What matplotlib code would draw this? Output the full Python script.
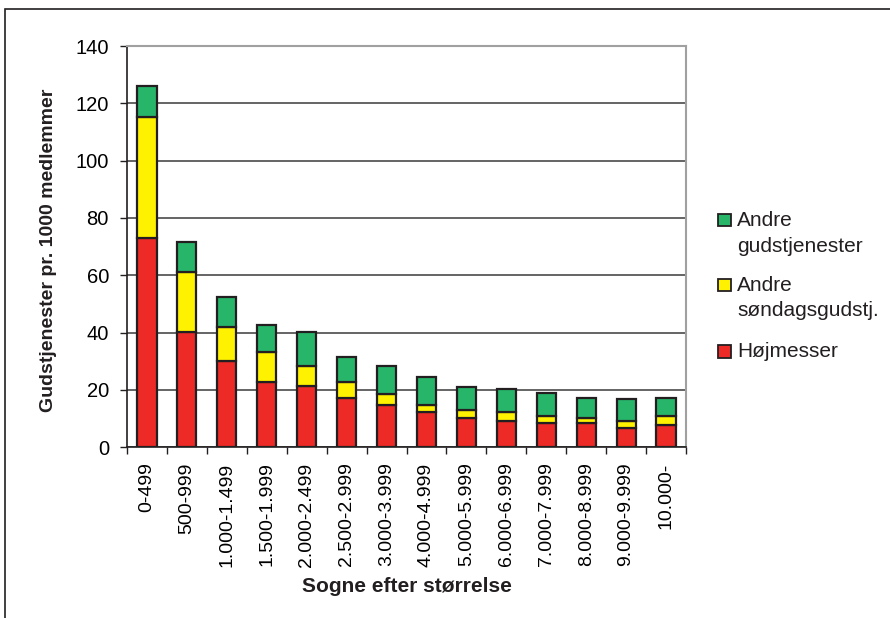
import matplotlib
matplotlib.use("Agg")
import matplotlib.pyplot as plt
from matplotlib.patches import Rectangle
import numpy as np

plt.rcParams['font.family'] = ['Liberation Sans', 'DejaVu Sans']

categories = ["0-499", "500-999", "1.000-1.499", "1.500-1.999", "2.000-2.499",
              "2.500-2.999", "3.000-3.999", "4.000-4.999", "5.000-5.999",
              "6.000-6.999", "7.000-7.999", "8.000-8.999", "9.000-9.999", "10.000-"]
hoejmesser = [72.9, 40.1, 30.2, 22.9, 21.5, 17.3, 14.8, 12.2, 10.3, 9.2, 8.6, 8.6, 6.6, 7.8]
andre_soendag = [42.2, 21.2, 11.9, 10.5, 6.9, 5.5, 3.7, 2.5, 2.7, 3.1, 2.3, 1.7, 2.6, 3.1]
andre_gudstj = [11.1, 10.4, 10.3, 9.3, 11.8, 8.8, 10.0, 9.9, 8.0, 8.0, 8.1, 6.9, 7.5, 6.3]

series_labels = [["Andre", "gudstjenester"], ["Andre", "søndagsgudstj."], ["Højmesser"]]

red = "#ee2a27"
yellow = "#fff200"
green = "#27b56a"
dark = "#231f20"

W, H = 890, 618
fig = plt.figure(figsize=(W / 100, H / 100), dpi=100)
ax = fig.add_axes([127 / W, 1 - 447.3 / H, (686 - 127) / W, (447.3 - 46) / H])


def fx(px):
    return px / W


def fy(py):
    return 1 - py / H


x = np.arange(len(categories))
w = 0.48
edge = dict(edgecolor=dark, linewidth=1.6)
ax.bar(x, hoejmesser, w, color=red, **edge, zorder=3)
ax.bar(x, andre_soendag, w, bottom=hoejmesser, color=yellow, **edge, zorder=3)
bottom2 = np.array(hoejmesser) + np.array(andre_soendag)
ax.bar(x, andre_gudstj, w, bottom=bottom2, color=green, **edge, zorder=3)

ax.set_xlim(-0.5, len(categories) - 0.5)
ax.set_ylim(0, 140)
ax.set_yticks(range(0, 141, 20))
ax.yaxis.grid(True, color="#3a3a3a", linewidth=1.1, zorder=0)
ax.set_axisbelow(True)

ax.set_xticks(x)
ax.set_xticklabels(categories, rotation=90, fontsize=14)
ax.set_xticks(np.arange(-0.5, len(categories), 1), minor=True)
ax.tick_params(axis="x", which="major", length=0, pad=11)
ax.tick_params(axis="x", which="minor", length=5, width=1, color=dark, direction="out")
ax.tick_params(axis="y", length=5, width=1, color=dark, labelsize=14.5, pad=8)

for side in ["top", "right"]:
    ax.spines[side].set_color("#a0a0a0")
    ax.spines[side].set_linewidth(1.5)
for side in ["left", "bottom"]:
    ax.spines[side].set_color(dark)
    ax.spines[side].set_linewidth(1.2)

# Axis titles
fig.text(fx(49), fy(250), "Gudstjenester pr. 1000 medlemmer", rotation=90,
         ha="center", va="center", fontsize=14, fontweight="bold", color=dark)
fig.text(fx(406.5), fy(591.7), "Sogne efter størrelse", ha="center", va="baseline",
         fontsize=15, fontweight="bold", color=dark)

# Legend: colour swatch beside the first line of each entry
legend_colors = [green, yellow, red]
legend_baselines = [[226, 251.7], [290.7, 315.7], [357.3]]
for color, lines, bases in zip(legend_colors, series_labels, legend_baselines):
    fig.add_artist(Rectangle((fx(718), fy(bases[0] + 0.5)), 12.5 / W, 12.5 / H,
                             transform=fig.transFigure, facecolor=color,
                             edgecolor=dark, linewidth=1.3))
    for text, b in zip(lines, bases):
        fig.text(fx(737), fy(b), text, ha="left", va="baseline", fontsize=15, color=dark)

# Outer frame around the chart
fig.add_artist(Rectangle((0.006, -0.05), 1.2, 1.035, transform=fig.transFigure,
                         fill=False, edgecolor=dark, linewidth=1.2))

fig.savefig("out.png", dpi=100)
